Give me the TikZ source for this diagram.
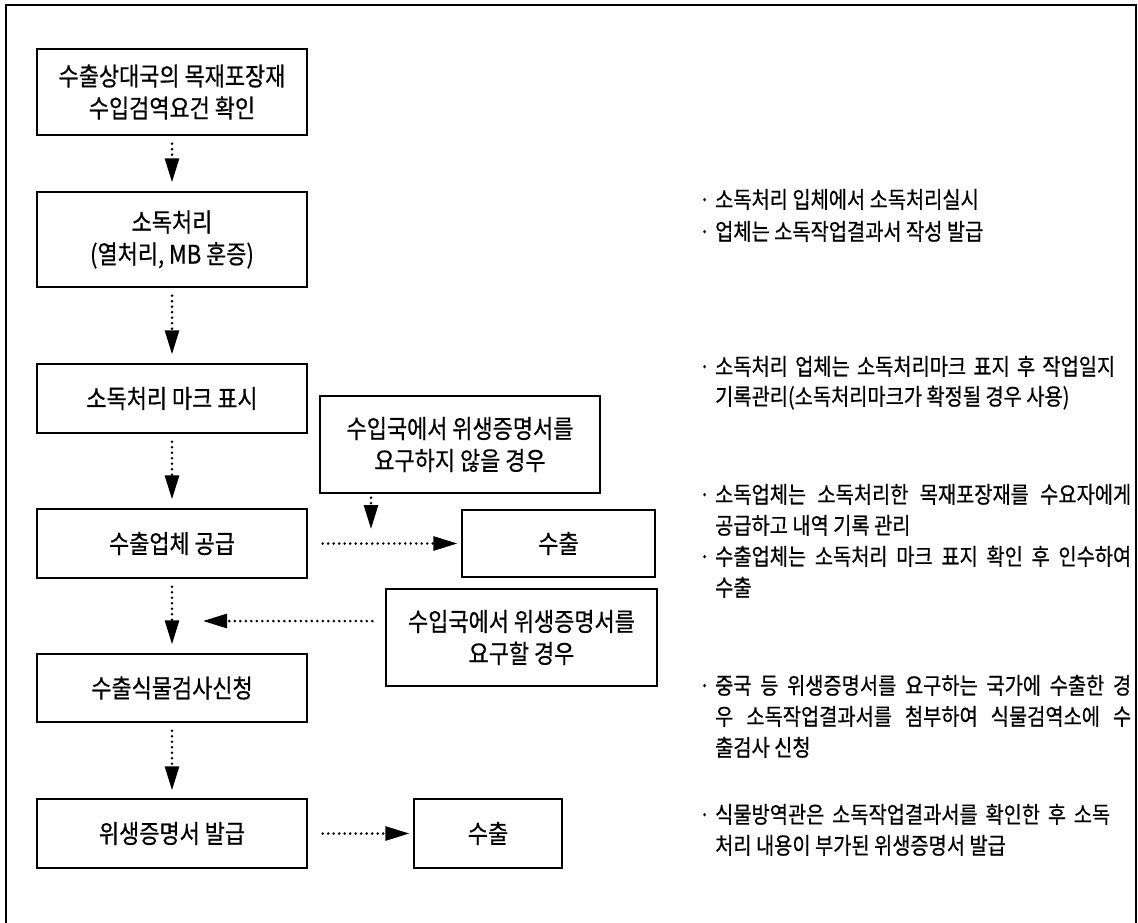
\documentclass[tikz,border=0pt]{standalone}
\usepackage{fontspec}
\newfontfamily\krfont[FakeStretch=0.86,FakeBold=0.6]{Noto Sans CJK KR}
\usetikzlibrary{arrows.meta}
\newcommand{\krbox}{\krfont\fontsize{25.5pt}{32pt}\selectfont}
\newcommand{\krnote}{\krfont\fontsize{23pt}{31pt}\selectfont}
\newcommand{\dotb}{\llap{·\hskip 5pt}}

\tikzset{
	boxnode/.style={draw, line width=1.3pt, font=\krbox, align=center, inner sep=0pt},
	flow/.style={line width=2.8pt, dash pattern=on 0pt off 5.5pt, line cap=round, -{Triangle[length=24pt,width=14pt]}},
	notetxt/.style={font=\krnote, anchor=base west, inner sep=0pt}
}

\begin{document}
\begin{tikzpicture}[x=1pt,y=-1pt]
	\useasboundingbox (0,0) rectangle (1138,923);
	\draw[line width=1.5pt] (6,923)--(6,5)--(1136,5)--(1136,923);
	% main column
	\node[boxnode, minimum width=270pt, minimum height=86pt] (b1) at (172,92) {수출상대국의 목재포장재\\수입검역요건 확인};
	\node[boxnode, minimum width=270pt, minimum height=95pt] (b2) at (172,239.5) {소독처리\\(열처리, MB 훈증)};
	\node[boxnode, minimum width=270pt, minimum height=69pt] (b3) at (172,398.5) {소독처리 마크 표시};
	\node[boxnode, minimum width=270pt, minimum height=69pt] (b4) at (172,543.5) {수출업체 공급};
	\node[boxnode, minimum width=270pt, minimum height=68pt] (b5) at (172,688) {수출식물검사신청};
	\node[boxnode, minimum width=270pt, minimum height=69pt] (b6) at (172,833.5) {위생증명서 발급};
	% side boxes
	\node[boxnode, minimum width=280pt, minimum height=97pt] (n1) at (460,444.5) {수입국에서 위생증명서를\\요구하지 않을 경우};
	\node[boxnode, minimum width=193pt, minimum height=67pt] (e1) at (558.5,543.5) {수출};
	\node[boxnode, minimum width=271pt, minimum height=97pt] (n2) at (521.5,637.5) {수입국에서 위생증명서를\\요구할 경우};
	\node[boxnode, minimum width=148pt, minimum height=69pt] (e2) at (488,833.5) {수출};
	\coordinate (j1) at (371,529);
	\coordinate (j2) at (203,621);
	% arrows
	\draw[flow, shorten <=8pt, shorten >=9pt] (b1)--(b2);
	\draw[flow, shorten <=8pt, shorten >=9pt] (b2)--(b3);
	\draw[flow, shorten <=8pt, shorten >=9pt] (b3)--(b4);
	\draw[flow, shorten <=8pt, shorten >=9pt] (b4)--(b5);
	\draw[flow, shorten <=8pt, shorten >=8pt] (b5)--(b6);
	\draw[flow, shorten <=15pt, shorten >=4pt] (b4.east)--(e1.west);
	\draw[flow, shorten <=4pt] (n1.south -| j1)--(j1);
	\draw[flow, shorten <=13pt] (n2.west |- j2)--(j2);
	\draw[flow, shorten <=15pt, shorten >=4pt] (b6.east)--(e2.west);
	% notes
	\node[notetxt] (t1a) at (715,208) {\dotb 소독처리 입체에서 소독처리실시};
	\node[notetxt] (t1b) at (715,240) {\dotb 업체는 소독작업결과서 작성 발급};
	\node[notetxt] (t2a) at (715,375) {\dotb\makebox[400pt][s]{소독처리 업체는 소독처리마크 표지 후 작업일지}};
	\node[notetxt] (t2b) at (715,405) {기록관리(소독처리마크가 확정될 경우 사용)};
	\node[notetxt] (t3a) at (715,503) {\dotb\makebox[416pt][s]{소독업체는 소독처리한 목재포장재를 수요자에게}};
	\node[notetxt] (t3b) at (715,534) {공급하고 내역 기록 관리};
	\node[notetxt] (t3c) at (715,565) {\dotb\makebox[416pt][s]{수출업체는 소독처리 마크 표지 확인 후 인수하여}};
	\node[notetxt] (t3d) at (715,596) {수출};
	\node[notetxt] (t4a) at (715,694) {\dotb\makebox[416pt][s]{중국 등 위생증명서를 요구하는 국가에 수출한 경}};
	\node[notetxt] (t4b) at (715,725) {\makebox[416pt][s]{우 소독작업결과서를 첨부하여 식물검역소에 수}};
	\node[notetxt] (t4c) at (715,756) {출검사 신청};
	\node[notetxt] (t5a) at (715,823) {\dotb\makebox[395pt][s]{식물방역관은 소독작업결과서를 확인한 후 소독}};
	\node[notetxt] (t5b) at (715,854) {처리 내용이 부가된 위생증명서 발급};
\end{tikzpicture}
\end{document}
